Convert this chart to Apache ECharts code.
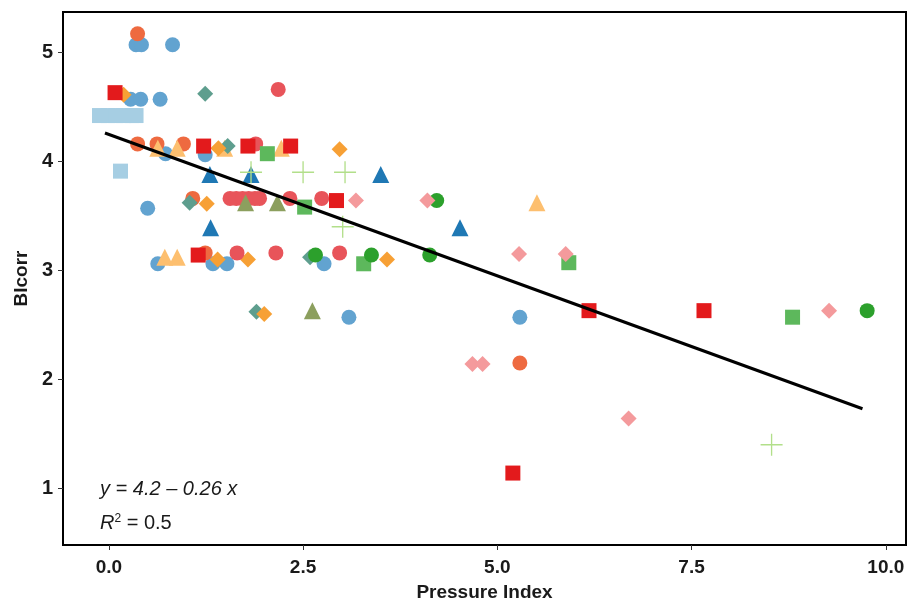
<!DOCTYPE html>
<html>
<head>
    <meta charset="utf-8">
    <title>Pressure Index vs BIcorr</title>
    <script src="https://cdn.jsdelivr.net/npm/echarts@6/dist/echarts.min.js"></script>
</head>
<body style="margin:0">
    <div id="main" style="width: 914px;height:602px;"></div>
    <script type="text/javascript">
    // points per group: [Pressure Index, BIcorr]
    var blueCircles = [[0.35,5.07],[0.42,5.07],[0.82,5.07],[0.28,4.57],[0.41,4.57],[0.66,4.57],
        [0.73,4.07],[1.24,4.06],[0.50,3.57],[0.63,3.06],[1.34,3.06],[1.52,3.06],[2.77,3.06],
        [3.09,2.57],[5.29,2.57]];
    var orangeRedCircles = [[0.37,5.17],[0.37,4.16],[0.62,4.16],[0.96,4.16],[1.08,3.66],[1.24,3.16],[5.29,2.15]];
    var redCircles = [[2.18,4.66],[1.89,4.16],[1.56,3.66],[1.64,3.66],[1.72,3.66],[1.80,3.66],[1.88,3.66],
        [1.94,3.66],[2.33,3.66],[2.74,3.66],[1.65,3.16],[2.15,3.16],[2.97,3.16]];
    var greenCircles = [[4.22,3.64],[2.66,3.14],[3.38,3.14],[4.13,3.14],[9.76,2.63]];
    var redSquares = [[0.08,4.63],[1.22,4.14],[1.79,4.14],[2.34,4.14],[2.93,3.64],[1.15,3.14],
        [6.18,2.63],[7.66,2.63],[5.20,1.14]];
    var greenSquares = [[2.04,4.07],[2.52,3.58],[3.28,3.06],[5.92,3.07],[8.80,2.57]];
    var paleBlueSquares = [[-0.12,4.42],[-0.01,4.42],[0.09,4.42],[0.19,4.42],[0.30,4.42],[0.35,4.42],[0.15,3.91]];
    var orangeDiamonds = [[0.19,4.61],[1.41,4.12],[2.97,4.11],[1.26,3.61],[1.40,3.10],[1.79,3.10],[3.58,3.10],[2.00,2.60]];
    var pinkDiamonds = [[3.18,3.64],[4.10,3.64],[5.28,3.15],[5.88,3.15],[4.68,2.14],[4.81,2.14],[6.69,1.64],[9.27,2.63]];
    var tealDiamonds = [[1.24,4.62],[1.53,4.14],[1.04,3.62],[2.59,3.12],[1.90,2.62]];
    var blueTriangles = [[1.30,3.88],[1.83,3.88],[3.50,3.88],[1.31,3.39],[4.52,3.39]];
    var paleOrangeTriangles = [[0.63,4.12],[0.88,4.12],[1.49,4.12],[2.22,4.12],[5.51,3.62],[0.72,3.12],[0.88,3.12]];
    var oliveTriangles = [[1.76,3.62],[2.17,3.62],[2.62,2.63]];
    var greenPluses = [[1.83,3.90],[2.50,3.90],[3.04,3.90],[3.01,3.40],[8.53,1.40]];

    // fitted line y = 4.25 - 0.26 x
    var fitLine = [[-0.05,4.26],[9.7,1.73]];
    var xTicks = [0, 2.5, 5, 7.5, 10];
    var yTicks = [1, 2, 3, 4, 5];

    var plusPath = 'path://M9.4,0 L10.6,0 L10.6,9.4 L20,9.4 L20,10.6 L10.6,10.6 L10.6,20 L9.4,20 L9.4,10.6 L0,10.6 L0,9.4 L9.4,9.4 Z';
    var eqFont = 'Liberation Sans Narrow, Liberation Sans';

    function pts(data, symbol, size, color) {
        return {
            type: 'scatter',
            data: data,
            symbol: symbol,
            symbolSize: size,
            itemStyle: { color: color, opacity: 1 },
            silent: true
        };
    }

    var myChart = echarts.init(document.getElementById('main'));
    myChart.setOption({
        animation: false,
        grid: {
            left: 63, right: 8, top: 12, bottom: 57,
            outerBoundsMode: 'none', containLabel: false,
            show: true, borderColor: '#000', borderWidth: 2, backgroundColor: '#fff'
        },
        xAxis: {
            type: 'value', min: -0.59, max: 10.26,
            name: 'Pressure Index', nameLocation: 'middle', nameGap: 38,
            nameTextStyle: { fontFamily: 'Liberation Sans', fontWeight: 'bold', fontSize: 19, color: '#1a1a1a' },
            axisLine: { show: true, onZero: false, lineStyle: { color: '#000', width: 2 } },
            axisTick: { show: true, customValues: xTicks, length: 5, lineStyle: { color: '#333', width: 1 } },
            axisLabel: {
                customValues: xTicks, margin: 13,
                fontFamily: 'Liberation Sans', fontWeight: 'bold', fontSize: 19, color: '#1a1a1a',
                formatter: function (v) { return v.toFixed(1); }
            },
            splitLine: { show: false }
        },
        yAxis: {
            type: 'value', min: 0.48, max: 5.37,
            name: 'BIcorr', nameLocation: 'middle', nameGap: 27,
            nameTextStyle: { fontFamily: 'Liberation Sans', fontWeight: 'bold', fontSize: 19, color: '#1a1a1a' },
            axisLine: { show: true, onZero: false, lineStyle: { color: '#000', width: 2 } },
            axisTick: { show: true, customValues: yTicks, length: 5, lineStyle: { color: '#333', width: 1 } },
            axisLabel: {
                customValues: yTicks, margin: 10,
                fontFamily: 'Liberation Sans', fontWeight: 'bold', fontSize: 20, color: '#1a1a1a'
            },
            splitLine: { show: false }
        },
        graphic: [
            { type: 'text', left: 100, top: 479,
              style: { text: 'y = 4.2 \u2013 0.26 x', fontFamily: eqFont,
                       fontStyle: 'italic', fontSize: 20, fill: '#1a1a1a' } },
            { type: 'text', left: 100, top: 513,
              style: { text: '{i|R}{s|2}{n| = 0.5}',
                       rich: {
                           i: { fontFamily: eqFont, fontStyle: 'italic', fontSize: 20, fill: '#1a1a1a' },
                           s: { fontFamily: eqFont, fontSize: 12, fill: '#1a1a1a', verticalAlign: 'top', padding: [0, 0, 9, 0] },
                           n: { fontFamily: eqFont, fontSize: 20, fill: '#1a1a1a' }
                       } } }
        ],
        series: [
            pts(paleBlueSquares, 'rect', 15, '#a6cee3'),
            pts(blueCircles, 'circle', 15, '#62a3d0'),
            pts(orangeRedCircles, 'circle', 15, '#ee6a40'),
            pts(paleOrangeTriangles, 'triangle', 17, '#fdbf6f'),
            pts(tealDiamonds, 'diamond', 16, '#5e9e8e'),
            pts(orangeDiamonds, 'diamond', 16, '#f7a035'),
            pts(redCircles, 'circle', 15, '#e8545a'),
            pts(redSquares, 'rect', 15, '#e31a1c'),
            pts(oliveTriangles, 'triangle', 17, '#8c9f5e'),
            pts(greenSquares, 'rect', 15, '#5db85c'),
            pts(greenCircles, 'circle', 15, '#2ca02c'),
            pts(pinkDiamonds, 'diamond', 16, '#f49a9c'),
            pts(blueTriangles, 'triangle', 17, '#1f78b4'),
            pts(greenPluses, plusPath, 22, '#b2df8a'),
            {
                type: 'line', data: fitLine, symbol: 'none', silent: true,
                lineStyle: { color: '#000', width: 3 }, z: 5
            }
        ]
    });
    </script>
</body>
</html>
